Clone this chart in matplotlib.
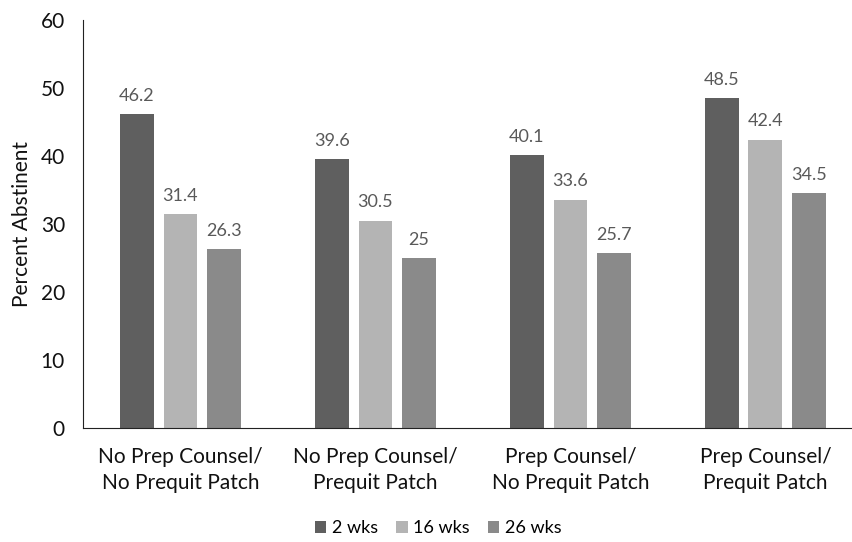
import numpy as np
import matplotlib
matplotlib.use("Agg")
import matplotlib.pyplot as plt

plt.rcParams['font.family'] = ['Lato', 'DejaVu Sans']

categories = ["No Prep Counsel/\nNo Prequit Patch", "No Prep Counsel/\nPrequit Patch",
              "Prep Counsel/\nNo Prequit Patch", "Prep Counsel/\nPrequit Patch"]
series_names = ["2 wks", "16 wks", "26 wks"]
wk2 = [46.2, 39.6, 40.1, 48.5]
wk16 = [31.4, 30.5, 33.6, 42.4]
wk26 = [26.3, 25, 25.7, 34.5]
colors = ["#5f5f5f", "#b4b4b4", "#8a8a8a"]

fig = plt.figure(figsize=(8.53, 5.42), dpi=100)
ax = fig.add_axes([83/853, 1-428/542, (853-83)/853, (428-20)/542])

x = np.arange(len(categories))
width = 0.174
step = 0.223
for i, (vals, name) in enumerate(zip([wk2, wk16, wk26], series_names)):
    bars = ax.bar(x + (i-1)*step, vals, width, color=colors[i], label=name)
    for b, v in zip(bars, vals):
        ax.text(b.get_x() + b.get_width()/2, v + 1.5, f"{v:g}", ha='center', va='bottom',
                fontsize=13, color="#595959")

ax.set_xlim(-0.5, 3.449)
ax.set_ylim(0, 60)
ax.set_yticks(range(0, 61, 10))
ax.set_xticks(x)
ax.set_xticklabels(categories, fontsize=15, color="#111111", linespacing=1.35)
ax.tick_params(axis='y', labelsize=15, length=0, pad=13, colors="#111111")
ax.tick_params(axis='x', length=0, pad=14)
ax.set_ylabel("Percent Abstinent", fontsize=15, color="#111111", labelpad=6)
for s in ['top', 'right']:
    ax.spines[s].set_visible(False)
ax.spines['left'].set_color("#222222")
ax.spines['bottom'].set_color("#222222")

fig.legend(*ax.get_legend_handles_labels(), loc='center', bbox_to_anchor=(438/853, 1-528/542),
           ncol=3, frameon=False, fontsize=13, handlelength=0.65, handleheight=0.65,
           columnspacing=1.0, handletextpad=0.3)

fig.savefig("out.png", dpi=100)
